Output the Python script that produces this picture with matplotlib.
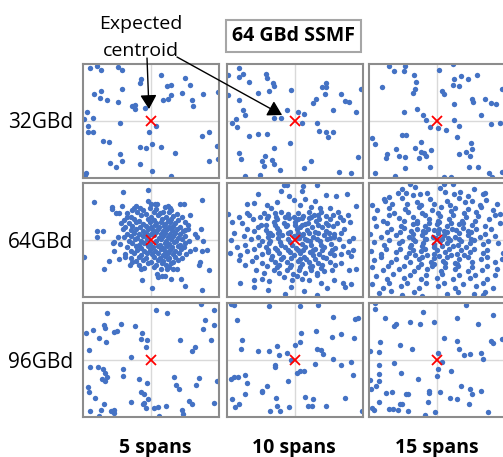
import numpy as np
import matplotlib.pyplot as plt

rates = ["32GBd", "64GBd", "96GBd"]
spans = ["5 spans", "10 spans", "15 spans"]
title = "64 GBd SSMF"

# received symbols around the expected centroid, normalised to the panel (centroid at 0, 0)
pts_32_5 = [
    (-0.90, 0.93), (-0.79, 0.96), (-0.74, 0.89), (-0.48, 0.95), (-0.42, 0.89), (-0.15, 0.73),
    (-0.16, 0.66), (0.15, 0.80), (0.50, 0.75), (0.57, 0.64), (0.23, 0.61), (0.30, 0.63),
    (-0.84, 0.47), (-0.74, 0.53), (-0.75, 0.41), (-0.65, 0.36), (-0.43, 0.57), (-0.48, 0.33),
    (-0.28, 0.26), (-0.23, 0.28), (-0.23, 0.21), (-0.09, 0.23), (0.17, 0.36), (0.25, 0.39),
    (0.30, 0.46), (0.46, 0.49), (0.61, 0.36), (0.62, 0.27), (0.77, 0.48), (0.99, 0.51),
    (-0.94, 0.15), (-0.99, 0.04), (-0.85, 0.06), (-0.92, -0.09), (-0.93, -0.20), (-0.85, -0.19),
    (-0.45, -0.04), (0.08, -0.09), (-0.03, -0.20), (-0.71, -0.35), (-0.62, -0.36), (-0.16, -0.46),
    (-0.08, -0.47), (0.02, -0.40), (0.15, -0.45), (-0.46, -0.58), (0.35, -0.56), (0.75, -0.27),
    (0.85, -0.20), (0.97, -0.44), (0.99, -0.66), (-0.60, -0.73), (-0.43, -0.71), (-0.52, -0.81),
    (-0.16, -0.75), (0.02, -0.87), (0.29, -0.96), (0.85, -0.71), (-0.97, -0.94), (-0.95, -0.92),
]
pts_32_10 = [
    (-0.83, 0.93), (-0.99, 0.80), (-0.83, 0.78), (-0.77, 0.83), (-0.43, 0.83), (-0.41, 0.75),
    (-0.68, 0.68), (-0.32, 0.67), (-0.31, 0.62), (-0.38, 0.53), (-0.54, 0.49), (-0.06, 0.54),
    (0.39, 0.59), (0.45, 0.67), (0.45, 0.60), (0.44, 0.47), (0.67, 0.47), (0.97, 0.56),
    (0.31, 0.39), (0.27, 0.31), (0.73, 0.35), (0.80, 0.34), (-0.99, 0.45), (-0.82, 0.36),
    (-0.76, 0.20), (-0.74, 0.10), (-0.87, 0.03), (-0.92, -0.04), (-0.86, -0.11), (-0.31, 0.05),
    (-0.21, 0.06), (-0.12, 0.20), (0.05, 0.15), (0.13, 0.13), (0.11, -0.04), (0.33, -0.03),
    (0.56, 0.19), (0.89, 0.15), (0.36, -0.17), (0.45, -0.20), (0.49, -0.28), (0.56, -0.19),
    (-0.68, -0.27), (-0.55, -0.22), (-0.41, -0.23), (-0.08, -0.39), (-0.31, -0.48), (-0.83, -0.56),
    (-0.80, -0.67), (-0.44, -0.61), (-0.48, -0.71), (-0.34, -0.68), (-0.31, -0.75), (-0.45, -0.79),
    (-0.22, -0.86), (0.24, -0.70), (0.13, -0.83), (0.92, -0.64), (0.64, -0.89), (0.83, -0.92),
    (-0.73, -0.96), (-0.51, -0.95),
]
pts_32_15 = [
    (-0.71, 0.96), (-0.63, 0.88), (-0.47, 0.97), (-0.48, 0.88), (-0.34, 0.81), (-0.31, 0.68),
    (-0.33, 0.56), (-0.36, 0.49), (-0.81, 0.60), (0.03, 0.90), (0.24, 1.00), (0.25, 0.74),
    (0.35, 0.79), (0.45, 0.74), (0.59, 0.80), (0.24, 0.63), (0.32, 0.61), (0.07, 0.53),
    (0.10, 0.47), (0.95, 0.56), (0.25, 0.29), (0.52, 0.39), (0.53, 0.33), (0.71, 0.39),
    (0.80, 0.32), (0.87, 0.30), (0.64, 0.11), (-0.48, 0.16), (-0.30, 0.21), (-0.20, 0.11),
    (-0.16, 0.01), (-0.11, -0.11), (0.02, -0.13), (0.13, -0.15), (0.25, 0.02), (0.32, -0.08),
    (0.80, -0.05), (0.92, -0.04), (-0.96, -0.29), (-0.91, -0.40), (-0.51, -0.25), (-0.46, -0.25),
    (-0.23, -0.36), (0.30, -0.28), (0.50, -0.39), (0.51, -0.49), (0.42, -0.54), (0.33, -0.58),
    (0.49, -0.61), (-0.32, -0.48), (-0.23, -0.54), (-0.19, -0.56), (-0.16, -0.61), (-0.09, -0.50),
    (-0.61, -0.49), (-0.73, -0.58), (-0.75, -0.65), (-0.56, -0.61), (-0.47, -0.64), (-0.27, -0.65),
    (-0.47, -0.82), (-0.11, -0.81), (0.47, -0.81), (0.61, -0.80), (-0.91, -0.92), (-0.62, -0.96),
    (0.10, -0.98), (0.21, -0.99), (0.76, -0.91), (0.81, -0.98), (0.95, -0.89),
]
pts_64_5 = [
    # core
    (-0.25, 0.56), (-0.12, 0.53), (-0.02, 0.57), (0.08, 0.54), (0.20, 0.58), (0.30, 0.52),
    (-0.35, 0.47), (-0.20, 0.49), (-0.08, 0.46), (0.05, 0.50), (0.13, 0.47), (0.27, 0.49), (0.38, 0.45),
    (-0.30, 0.41), (-0.15, 0.43), (0.00, 0.40), (0.10, 0.43), (0.22, 0.41), (0.33, 0.42), (0.45, 0.40),
    (-0.40, 0.35), (-0.25, 0.37), (-0.18, 0.34), (-0.05, 0.37), (0.04, 0.35), (0.16, 0.37), (0.25, 0.34),
    (0.30, 0.37), (0.40, 0.35),
    (-0.33, 0.29), (-0.22, 0.31), (-0.12, 0.28), (-0.02, 0.31), (0.08, 0.29), (0.14, 0.32), (0.20, 0.28),
    (0.28, 0.31), (0.36, 0.29), (0.50, 0.31),
    (-0.38, 0.23), (-0.28, 0.25), (-0.16, 0.22), (-0.08, 0.25), (0.00, 0.23), (0.06, 0.26), (0.12, 0.22),
    (0.19, 0.25), (0.26, 0.23), (0.33, 0.25), (0.43, 0.22),
    (-0.30, 0.17), (-0.22, 0.19), (-0.12, 0.16), (-0.04, 0.19), (0.03, 0.17), (0.10, 0.20), (0.17, 0.16),
    (0.24, 0.19), (0.31, 0.17), (0.38, 0.19), (0.47, 0.16), (0.55, 0.19),
    (-0.35, 0.11), (-0.25, 0.13), (-0.18, 0.10), (-0.08, 0.13), (0.00, 0.11), (0.07, 0.14), (0.14, 0.10),
    (0.21, 0.13), (0.28, 0.11), (0.35, 0.13), (0.42, 0.10),
    (-0.40, 0.05), (-0.30, 0.07), (-0.20, 0.04), (-0.12, 0.07), (-0.05, 0.05), (0.05, 0.08), (0.12, 0.04),
    (0.18, 0.07), (0.25, 0.05), (0.32, 0.07), (0.40, 0.04), (0.50, 0.07),
    (-0.33, -0.01), (-0.24, 0.01), (-0.15, -0.02), (-0.06, 0.01), (0.08, -0.01), (0.15, 0.02), (0.22, -0.02),
    (0.30, 0.01), (0.37, -0.01), (0.45, 0.02), (0.56, -0.01),
    (-0.45, -0.07), (-0.28, -0.05), (-0.18, -0.08), (-0.10, -0.05), (-0.02, -0.07), (0.06, -0.04),
    (0.13, -0.08), (0.20, -0.05), (0.27, -0.07), (0.34, -0.04), (0.42, -0.08), (0.50, -0.05),
    (-0.36, -0.13), (-0.22, -0.11), (-0.14, -0.14), (-0.05, -0.11), (0.03, -0.13), (0.10, -0.10),
    (0.17, -0.14), (0.24, -0.11), (0.31, -0.13), (0.39, -0.10), (0.48, -0.13),
    (-0.30, -0.19), (-0.20, -0.17), (-0.10, -0.20), (-0.02, -0.17), (0.06, -0.19), (0.14, -0.16),
    (0.21, -0.20), (0.28, -0.17), (0.36, -0.19), (0.44, -0.16), (0.58, -0.19),
    (-0.38, -0.25), (-0.25, -0.23), (-0.15, -0.26), (-0.06, -0.23), (0.02, -0.25), (0.10, -0.22),
    (0.18, -0.26), (0.25, -0.23), (0.33, -0.25), (0.41, -0.22), (0.52, -0.25),
    (-0.30, -0.31), (-0.18, -0.29), (-0.08, -0.32), (0.05, -0.29), (0.13, -0.31), (0.20, -0.28),
    (0.27, -0.32), (0.35, -0.29), (0.46, -0.31),
    (-0.22, -0.37), (-0.12, -0.35), (0.00, -0.38), (0.10, -0.35), (0.18, -0.37), (0.25, -0.34),
    (0.32, -0.38), (0.40, -0.35),
    (-0.18, -0.43), (-0.05, -0.41), (0.08, -0.44), (0.16, -0.41), (0.22, -0.43), (0.30, -0.41),
    (-0.10, -0.49), (0.05, -0.47), (0.14, -0.50), (0.26, -0.47),
    # outer
    (-0.41, 0.85), (-0.05, 0.88), (-0.84, 0.67), (0.75, 0.70), (-0.58, 0.58), (-0.58, 0.54),
    (-0.43, 0.60), (0.43, 0.63), (0.49, 0.64), (0.57, 0.44), (-0.80, 0.16), (-0.70, 0.16),
    (-0.79, 0.06), (-0.99, -0.30), (-0.69, -0.51), (-0.62, -0.37), (-0.55, -0.19), (-0.56, -0.05),
    (-0.47, -0.33), (-0.38, -0.29), (-0.13, -0.70), (0.01, -0.85), (0.50, -0.81), (0.75, -0.88),
    (0.44, -0.68), (0.30, -0.68), (0.86, -0.53), (0.72, -0.38), (0.71, -0.44), (0.65, -0.15),
    (0.75, -0.19), (0.82, -0.18), (0.76, -0.01), (0.74, 0.20), (0.65, 0.11), (0.67, 0.06),
    (0.09, -0.60), (0.11, -0.65), (0.16, -0.63), (0.21, -0.64), (0.23, -0.51), (0.33, -0.50),
    (0.38, -0.50), (-0.31, -0.44), (-0.28, -0.38), (-0.15, -0.51), (-0.51, 0.47), (-0.47, 0.47),
    (-0.28, 0.53), (-0.22, 0.60), (-0.16, 0.56), (-0.04, 0.69), (0.00, 0.63), (0.06, 0.63),
    (0.09, 0.64), (0.25, 0.60), (0.28, 0.56), (0.18, 0.50), (-0.36, 0.41), (-0.44, 0.29),
    (-0.41, 0.20), (-0.49, 0.05), (-0.54, -0.03), (0.55, 0.26), (0.50, 0.18),
]
pts_64_10 = [
    (-0.16, 0.97), (-0.12, 0.97), (0.12, 0.95), (0.32, 0.96),
    (-0.55, 0.81), (-0.21, 0.86), (0.10, 0.86), (0.45, 0.79), (0.60, 0.77), (0.77, 0.80), (-0.09, 0.77),
    (-0.70, 0.64), (-0.60, 0.65), (-0.41, 0.61), (-0.35, 0.56), (-0.26, 0.67), (0.07, 0.61), (0.23, 0.58),
    (0.37, 0.56), (0.52, 0.57), (0.63, 0.50), (0.90, 0.59), (-0.02, 0.70), (0.15, 0.72), (0.30, 0.68),
    (-0.99, 0.45), (-0.92, 0.32), (-0.82, 0.41), (-0.70, 0.47), (-0.67, 0.44), (-0.51, 0.40), (-0.45, 0.48),
    (-0.30, 0.47), (-0.20, 0.50), (-0.10, 0.45), (0.05, 0.48), (0.12, 0.42), (0.20, 0.49), (0.28, 0.44),
    (0.38, 0.49), (0.45, 0.42), (0.56, 0.43), (0.66, 0.40), (0.78, 0.43), (0.81, 0.32),
    (-0.78, 0.30), (-0.62, 0.36), (-0.50, 0.27), (-0.41, 0.39), (-0.31, 0.31), (-0.27, 0.37), (-0.16, 0.29),
    (-0.09, 0.38), (0.00, 0.32), (0.04, 0.37), (0.15, 0.28), (0.21, 0.38), (0.31, 0.33), (0.35, 0.37),
    (0.46, 0.29), (0.51, 0.36), (0.62, 0.30), (0.70, 0.35),
    (-0.90, 0.12), (-0.71, 0.20), (-0.61, 0.16), (-0.54, 0.23), (-0.43, 0.18), (-0.37, 0.13), (-0.27, 0.21),
    (-0.23, 0.16), (-0.13, 0.24), (-0.07, 0.14), (0.03, 0.20), (0.07, 0.23), (0.17, 0.17), (0.25, 0.22),
    (0.29, 0.14), (0.39, 0.22), (0.45, 0.15), (0.56, 0.24), (0.67, 0.12), (0.72, 0.19), (0.58, 0.10),
    (-0.94, 0.00), (-0.75, 0.07), (-0.65, 0.01), (-0.55, 0.06), (-0.49, -0.01), (-0.39, 0.05), (-0.34, 0.09),
    (-0.25, 0.03), (-0.19, 0.08), (-0.11, 0.02), (-0.02, 0.07), (0.04, 0.04), (0.11, 0.09), (0.17, 0.00),
    (0.27, 0.06), (0.32, 0.02), (0.42, 0.08), (0.47, 0.01), (0.58, 0.06), (0.64, 0.02), (0.79, -0.02),
    (0.86, 0.04),
    (-0.86, -0.12), (-0.73, -0.09), (-0.61, -0.15), (-0.53, -0.08), (-0.43, -0.12), (-0.38, -0.06),
    (-0.29, -0.14), (-0.21, -0.08), (-0.15, -0.13), (-0.05, -0.09), (0.01, -0.14), (0.10, -0.07),
    (0.15, -0.12), (0.24, -0.09), (0.29, -0.15), (0.38, -0.08), (0.43, -0.13), (0.53, -0.07),
    (0.59, -0.14), (0.71, -0.10), (0.78, -0.21), (0.86, -0.17),
    (-0.95, -0.22), (-0.81, -0.26), (-0.70, -0.20), (-0.57, -0.29), (-0.49, -0.24), (-0.39, -0.21),
    (-0.34, -0.28), (-0.24, -0.23), (-0.18, -0.30), (-0.08, -0.21), (-0.02, -0.26), (0.08, -0.23),
    (0.13, -0.29), (0.22, -0.21), (0.27, -0.27), (0.36, -0.24), (0.41, -0.29), (0.51, -0.22),
    (0.57, -0.27), (0.67, -0.24), (0.82, -0.28),
    (-0.82, -0.35), (-0.74, -0.43), (-0.63, -0.36), (-0.49, -0.41), (-0.41, -0.45), (-0.30, -0.38),
    (-0.24, -0.44), (-0.12, -0.39), (-0.06, -0.44), (0.04, -0.37), (0.10, -0.42), (0.20, -0.38),
    (0.25, -0.45), (0.34, -0.40), (0.40, -0.44), (0.51, -0.38), (0.59, -0.43), (0.68, -0.40),
    (0.80, -0.52), (0.90, -0.50),
    (-0.58, -0.53), (-0.45, -0.58), (-0.31, -0.52), (-0.23, -0.58), (-0.12, -0.53), (-0.03, -0.59),
    (0.06, -0.52), (0.15, -0.58), (0.24, -0.52), (0.33, -0.58), (0.43, -0.55), (0.55, -0.52),
    (-0.81, -0.76), (-0.60, -0.70), (-0.48, -0.68), (-0.38, -0.72), (-0.16, -0.65), (-0.05, -0.71),
    (0.03, -0.64), (0.11, -0.68), (0.21, -0.70), (0.32, -0.62), (0.38, -0.75), (0.58, -0.70), (0.70, -0.76),
    (-0.61, -0.82), (-0.40, -0.88), (-0.15, -0.95), (-0.06, -0.83), (0.13, -0.90), (0.32, -0.96),
    (0.47, -0.85), (0.73, -0.83), (0.83, -0.77),
    (-0.40, 0.42), (-0.28, 0.40), (-0.15, 0.41), (-0.02, 0.40), (0.10, 0.39), (0.24, 0.41), (0.34, 0.43),
    (-0.42, 0.26), (-0.30, 0.27), (-0.12, 0.27), (0.00, 0.27), (0.10, 0.26), (0.19, 0.29), (0.34, 0.27),
    (0.48, 0.26), (-0.40, 0.12), (-0.25, 0.12), (-0.10, 0.12), (0.04, 0.13), (0.12, 0.11), (0.20, 0.12),
    (0.34, 0.13), (0.50, 0.12), (-0.37, -0.02), (-0.22, -0.03), (-0.07, -0.03), (0.06, 0.03), (0.14, 0.02),
    (0.22, -0.02), (0.37, -0.02), (0.52, 0.03), (-0.40, -0.18), (-0.26, -0.18), (-0.10, -0.18),
    (0.05, -0.17), (0.12, -0.18), (0.26, -0.17), (0.40, -0.17), (0.55, -0.18), (-0.36, -0.33),
    (-0.20, -0.33), (-0.06, -0.31), (0.08, -0.33), (0.16, -0.33), (0.30, -0.33), (0.45, -0.32),
    (-0.27, -0.48), (-0.08, -0.47), (0.08, -0.48), (0.22, -0.47), (0.38, -0.49),
]
pts_64_15 = [
    (-0.40, 0.98), (-0.33, 0.93), (0.10, 0.98), (0.23, 0.98), (-0.52, 0.89), (0.04, 0.92), (0.55, 0.90),
    (-0.78, 0.72), (-0.70, 0.76), (-0.58, 0.82), (-0.45, 0.83), (-0.36, 0.79), (-0.25, 0.80), (-0.15, 0.82),
    (0.12, 0.84), (0.25, 0.80), (0.34, 0.85), (0.45, 0.78), (0.67, 0.80), (0.70, 0.83),
    (-0.95, 0.62), (-0.77, 0.69), (-0.66, 0.64), (-0.51, 0.73), (-0.44, 0.63), (-0.30, 0.67), (-0.24, 0.61),
    (-0.10, 0.72), (-0.04, 0.64), (0.14, 0.69), (0.19, 0.62), (0.33, 0.74), (0.41, 0.66), (0.52, 0.69),
    (0.63, 0.61), (0.72, 0.70), (0.88, 0.64),
    (-0.88, 0.52), (-0.70, 0.57), (-0.63, 0.47), (-0.47, 0.54), (-0.42, 0.49), (-0.27, 0.58), (-0.22, 0.47),
    (-0.08, 0.53), (0.02, 0.48), (0.06, 0.58), (0.20, 0.51), (0.27, 0.57), (0.39, 0.47), (0.45, 0.55),
    (0.58, 0.50), (0.64, 0.58), (0.82, 0.52), (0.93, 0.46),
    (-0.93, 0.38), (-0.79, 0.34), (-0.70, 0.43), (-0.56, 0.38), (-0.49, 0.33), (-0.35, 0.40), (-0.30, 0.34),
    (-0.17, 0.43), (-0.12, 0.37), (0.01, 0.33), (0.05, 0.42), (0.18, 0.37), (0.24, 0.43), (0.37, 0.34),
    (0.42, 0.40), (0.56, 0.33), (0.61, 0.42), (0.77, 0.37), (0.85, 0.44),
    (-0.90, 0.24), (-0.74, 0.29), (-0.68, 0.19), (-0.53, 0.24), (-0.48, 0.21), (-0.35, 0.28), (-0.30, 0.20),
    (-0.18, 0.25), (-0.13, 0.19), (0.00, 0.28), (0.03, 0.20), (0.15, 0.24), (0.22, 0.19), (0.33, 0.28),
    (0.38, 0.21), (0.51, 0.27), (0.57, 0.19), (0.70, 0.24), (0.80, 0.20), (0.93, 0.29),
    (-0.98, 0.10), (-0.82, 0.05), (-0.74, 0.14), (-0.60, 0.09), (-0.54, 0.14), (-0.41, 0.05), (-0.35, 0.11),
    (-0.22, 0.08), (-0.17, 0.14), (-0.06, 0.05), (0.01, 0.12), (0.10, 0.08), (0.15, 0.14), (0.27, 0.05),
    (0.32, 0.12), (0.45, 0.09), (0.50, 0.14), (0.63, 0.05), (0.70, 0.11), (0.86, 0.07),
    (-0.93, -0.03), (-0.78, -0.08), (-0.71, 0.00), (-0.56, -0.05), (-0.51, -0.01), (-0.38, -0.08),
    (-0.33, -0.02), (-0.20, -0.05), (-0.16, 0.01), (-0.04, -0.07), (0.05, -0.02), (0.14, -0.06),
    (0.19, 0.00), (0.31, -0.08), (0.36, -0.02), (0.49, -0.05), (0.54, 0.00), (0.68, -0.07),
    (0.75, -0.02), (0.90, -0.06),
    (-0.97, -0.20), (-0.83, -0.24), (-0.75, -0.16), (-0.60, -0.21), (-0.54, -0.15), (-0.41, -0.23),
    (-0.36, -0.17), (-0.23, -0.20), (-0.18, -0.15), (-0.05, -0.24), (0.00, -0.17), (0.12, -0.21),
    (0.17, -0.15), (0.30, -0.24), (0.35, -0.18), (0.48, -0.21), (0.54, -0.15), (0.68, -0.23),
    (0.74, -0.18), (0.97, -0.22),
    (-0.92, -0.35), (-0.82, -0.30), (-0.67, -0.39), (-0.60, -0.33), (-0.46, -0.30), (-0.40, -0.39),
    (-0.27, -0.34), (-0.22, -0.30), (-0.09, -0.39), (-0.04, -0.31), (0.09, -0.36), (0.14, -0.30),
    (0.27, -0.40), (0.32, -0.33), (0.45, -0.30), (0.51, -0.39), (0.65, -0.34), (0.73, -0.30),
    (0.86, -0.38), (0.95, -0.33),
    (-0.95, -0.48), (-0.80, -0.53), (-0.72, -0.45), (-0.56, -0.50), (-0.49, -0.45), (-0.34, -0.54),
    (-0.28, -0.47), (-0.14, -0.51), (-0.08, -0.45), (0.06, -0.54), (0.12, -0.47), (0.26, -0.50),
    (0.31, -0.45), (0.45, -0.54), (0.51, -0.48), (0.66, -0.52), (0.74, -0.45), (0.88, -0.51),
    (-0.90, -0.63), (-0.74, -0.68), (-0.65, -0.60), (-0.48, -0.66), (-0.40, -0.61), (-0.24, -0.69),
    (-0.16, -0.62), (0.00, -0.66), (0.08, -0.60), (0.24, -0.68), (0.32, -0.61), (0.48, -0.66),
    (0.56, -0.61), (0.74, -0.68), (0.85, -0.62),
    (-0.96, -0.78), (-0.80, -0.84), (-0.70, -0.76), (-0.53, -0.80), (-0.44, -0.75), (-0.26, -0.85),
    (-0.16, -0.76), (0.02, -0.81), (0.10, -0.75), (0.27, -0.84), (0.38, -0.77), (0.57, -0.80),
    (0.68, -0.75), (0.82, -0.84),
    (-0.86, -0.93), (-0.68, -0.90), (-0.52, -0.96), (-0.34, -0.92), (-0.22, -0.99), (0.14, -0.95),
    (0.31, -0.92), (0.55, -0.94), (0.67, -0.97), (0.70, -0.91),
    (-0.30, 0.30), (-0.12, 0.30), (0.03, 0.31), (0.20, 0.30), (0.38, 0.29), (-0.38, 0.16), (-0.20, 0.16),
    (-0.04, 0.17), (0.10, 0.16), (0.28, 0.17), (0.45, 0.16), (-0.35, 0.02), (-0.18, 0.02), (-0.02, 0.03),
    (0.08, 0.01), (0.16, 0.03), (0.33, 0.02), (0.50, 0.02), (-0.40, -0.12), (-0.22, -0.11), (-0.04, -0.12),
    (0.07, -0.10), (0.24, -0.11), (0.42, -0.12), (-0.33, -0.27), (-0.15, -0.27), (0.03, -0.28),
    (0.21, -0.27), (0.40, -0.27), (-0.24, -0.42), (-0.05, -0.42), (0.12, -0.41), (0.30, -0.42),
]
pts_96_5 = [
    (-0.64, 0.83), (0.07, 0.87), (0.24, 0.82), (0.73, 0.99), (0.93, 0.88), (0.79, 0.71),
    (0.92, 0.61), (0.76, 0.54), (-0.95, 0.47), (-0.85, 0.53), (-0.69, 0.61), (-0.67, 0.57),
    (-0.55, 0.50), (-0.50, 0.51), (-0.44, 0.63), (-0.24, 0.60), (-0.13, 0.47), (-0.14, 0.36),
    (-0.06, 0.35), (-0.08, 0.23), (-0.77, 0.39), (-0.66, 0.32), (-0.91, 0.17), (-0.30, 0.06),
    (0.42, 0.35), (0.64, 0.22), (0.60, 0.16), (0.88, 0.35), (-0.90, -0.12), (-0.78, -0.13),
    (-0.71, -0.15), (-0.67, -0.22), (-0.65, -0.29), (-0.72, -0.33), (-0.67, -0.37), (-0.41, -0.15),
    (-0.41, -0.28), (-0.17, -0.33), (-0.06, -0.41), (-0.93, -0.48), (-0.91, -0.57), (-0.83, -0.66),
    (-0.69, -0.77), (-0.74, -0.87), (-0.90, -0.90), (-0.76, -0.98), (-0.59, -0.90), (-0.55, -0.88),
    (-0.55, -0.93), (-0.30, -0.73), (-0.14, -0.56), (-0.11, -0.60), (-0.04, -0.68), (-0.12, -0.77),
    (-0.10, -0.75), (-0.07, -0.85), (0.04, -0.84), (0.10, -0.82), (0.12, -0.98), (0.22, -0.80),
    (0.34, -0.29), (0.37, -0.44), (0.41, -0.51), (0.70, -0.31), (0.66, -0.44), (0.97, -0.36),
    (0.56, -0.72), (0.61, -0.78), (0.45, -0.88), (0.47, -0.94), (0.93, -0.75),
]
pts_96_10 = [
    (-0.94, 0.99), (-0.90, 0.97), (-0.38, 0.94), (0.07, 0.95), (0.34, 0.97), (-0.85, 0.71),
    (0.56, 0.76), (0.88, 0.72), (0.92, 0.74), (0.09, 0.47), (0.31, 0.51), (-0.78, 0.35),
    (-0.79, 0.20), (-0.55, 0.15), (-0.38, 0.16), (-0.27, 0.24), (-0.24, 0.09), (-0.12, 0.12),
    (0.00, 0.26), (0.07, 0.31), (0.33, 0.20), (0.38, 0.17), (0.41, 0.10), (0.55, 0.41),
    (0.67, 0.46), (0.87, 0.39), (-0.06, 0.00), (-0.30, -0.08), (-0.30, -0.12), (0.03, -0.23),
    (0.08, -0.20), (0.13, -0.19), (0.30, -0.07), (0.56, 0.02), (0.67, -0.09), (0.83, -0.03),
    (0.85, -0.26), (-0.94, -0.33), (-0.89, -0.29), (-0.84, -0.29), (-0.73, -0.26), (-0.71, -0.41),
    (-0.10, -0.36), (-0.41, -0.45), (-0.49, -0.54), (-0.48, -0.57), (-0.73, -0.60), (-0.92, -0.68),
    (-0.88, -0.82), (-0.82, -0.77), (-0.28, -0.67), (-0.27, -0.80), (-0.37, -0.89), (-0.22, -0.89),
    (-0.09, -0.82), (0.14, -0.65), (0.27, -0.69), (0.19, -0.81), (0.25, -0.80), (0.45, -0.80),
    (0.73, -0.67), (0.98, -0.89),
]
pts_96_15 = [
    (-0.91, 1.00), (-0.91, 0.89), (-0.76, 0.74), (-0.20, 0.85), (0.43, 0.96), (0.83, 0.79),
    (0.30, 0.73), (0.60, 0.63), (-0.63, 0.60), (-0.61, 0.63), (-0.39, 0.66), (-0.25, 0.63),
    (-0.05, 0.66), (-0.84, 0.32), (-0.55, 0.27), (-0.37, 0.19), (-0.98, 0.15), (-0.85, 0.14),
    (0.11, 0.38), (0.30, 0.33), (0.33, 0.19), (0.39, 0.08), (0.48, 0.11), (0.65, 0.12),
    (0.68, 0.01), (0.79, 0.33), (0.83, 0.29), (0.95, 0.36), (0.02, 0.13), (0.07, -0.04),
    (0.02, -0.15), (-0.86, -0.09), (-0.63, -0.06), (-0.53, -0.22), (-0.85, -0.25), (-0.86, -0.37),
    (-0.98, -0.35), (-0.89, -0.45), (-0.97, -0.50), (-0.28, -0.34), (0.00, -0.28), (0.20, -0.19),
    (-0.75, -0.58), (-0.66, -0.57), (-0.45, -0.60), (-0.42, -0.60), (-0.12, -0.54), (-0.12, -0.58),
    (0.04, -0.56), (0.35, -0.46), (0.48, -0.51), (0.52, -0.60), (0.65, -0.54), (0.19, -0.66),
    (0.30, -0.68), (-0.86, -0.74), (-0.55, -0.78), (-0.51, -0.77), (-0.13, -0.74), (0.47, -0.77),
    (-0.70, -0.86), (-0.64, -0.86), (-0.57, -0.87), (-0.42, -0.90), (-0.96, -0.85), (-0.92, -0.87),
    (-0.03, -0.91), (-0.17, -0.96), (0.75, -0.91),
]
panels = [
    [pts_32_5, pts_32_10, pts_32_15],
    [pts_64_5, pts_64_10, pts_64_15],
    [pts_96_5, pts_96_10, pts_96_15],
]

plt.rcParams["font.family"] = ["Open Sans", "DejaVu Sans"]

W, H = 503, 457
fig = plt.figure(figsize=(W / 100, H / 100), dpi=100)

# panel frames in pixels (the right column runs off the figure edge)
col_left = [83, 227, 369]
row_top = [64, 183, 303]
pw, ph = 136, 114

axes = []
for i in range(3):
    row = []
    for j in range(3):
        ax = fig.add_axes([col_left[j] / W, 1 - (row_top[i] + ph) / H, pw / W, ph / H])
        p = np.array(panels[i][j])
        ax.axhline(0, color="#d9d9d9", lw=1.0, zorder=0)
        ax.axvline(0, color="#d9d9d9", lw=1.0, zorder=0)
        ax.scatter(p[:, 0], p[:, 1], s=15, color="#4472c4", lw=0, zorder=2)
        ax.plot(0, 0, marker="x", color="#ff0000", ms=7.5, mew=1.3, zorder=3)
        ax.set_xlim(-1, 1)
        ax.set_ylim(-1, 1)
        ax.set_xticks([])
        ax.set_yticks([])
        for s in ax.spines.values():
            s.set_color("#8c8c8c")
            s.set_linewidth(1.5)
            s.set_zorder(5)
        row.append(ax)
    axes.append(row)

# row labels
for i, lab in enumerate(rates):
    fig.text(73 / W, 1 - (row_top[i] + 64.5) / H, lab, ha="right", va="baseline", fontsize=15)

# column labels
label_x = [155, 294, 437]
for j, lab in enumerate(spans):
    fig.text(label_x[j] / W, 1 - 453 / H, lab, ha="center", va="baseline",
             fontsize=14, fontweight="bold")

# title box
fig.text(293.5 / W, 1 - 41 / H, title, ha="center", va="baseline", fontsize=14,
         fontweight="bold",
         bbox=dict(boxstyle="square,pad=0.3", fc="white", ec="#a6a6a6", lw=1.5))

# annotation
fig.text(141 / W, 1 - 29 / H, "Expected", ha="center", va="baseline", fontsize=14)
fig.text(141 / W, 1 - 56 / H, "centroid", ha="center", va="baseline", fontsize=14)

arrow = dict(arrowstyle="-|>,head_length=0.85,head_width=0.5", color="black", lw=1,
             mutation_scale=10, shrinkA=0, shrinkB=0)
axes[0][0].annotate("", xy=(-0.03, 0.21), xycoords="data", xytext=(147, H - 58),
                    textcoords="figure pixels", arrowprops=arrow, annotation_clip=False, zorder=10)
axes[0][1].annotate("", xy=(-0.19, 0.105), xycoords="data", xytext=(177, H - 57),
                    textcoords="figure pixels", arrowprops=arrow, annotation_clip=False, zorder=10)

fig.savefig("out.png", dpi=100)
